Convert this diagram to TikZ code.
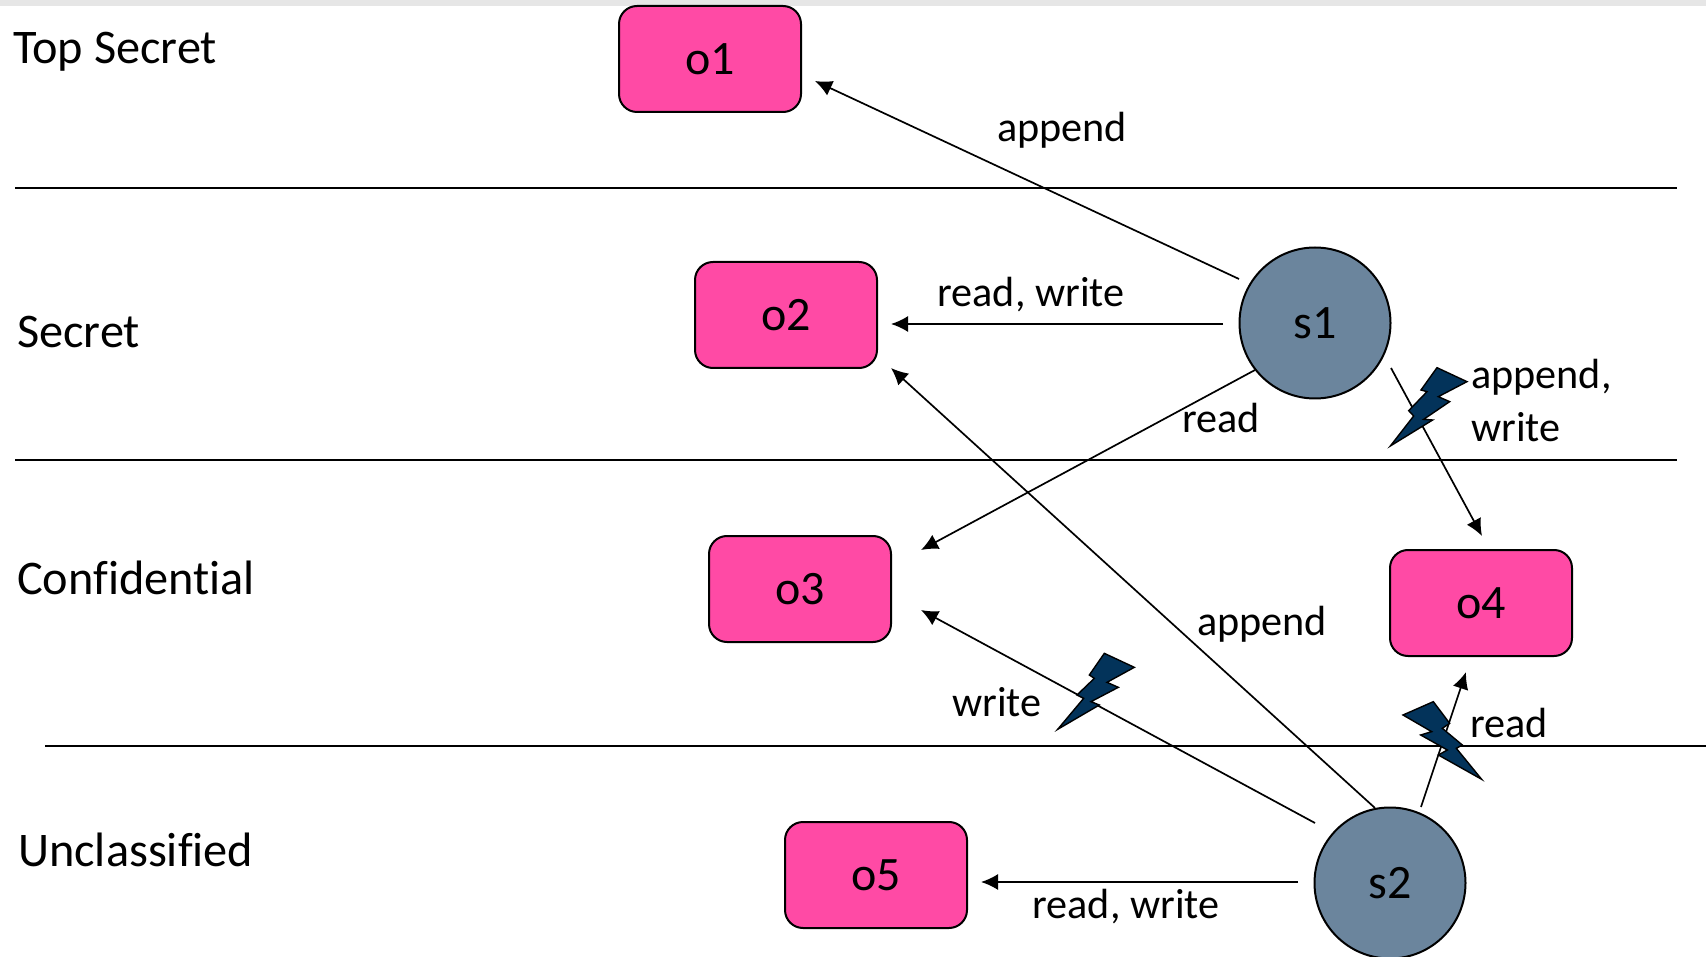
\documentclass[tikz,border=0pt]{standalone}
\usepackage{fontspec}
\usetikzlibrary{arrows.meta}
\setmainfont[Ligatures=NoCommon]{Carlito}
\definecolor{pinkbox}{HTML}{FF4AA5}
\definecolor{slatecirc}{HTML}{6B859D}
\definecolor{boltblue}{HTML}{03335A}
\definecolor{bandgray}{HTML}{E6E6E6}
\begin{document}
\begin{tikzpicture}[x=1pt,y=-1pt,
  objbox/.style={draw=black,line width=2pt,fill=pinkbox,rounded corners=18pt,minimum width=182pt,minimum height=106pt,inner sep=0pt,font=\fontsize{48}{50}\selectfont},
  subj/.style={draw=black,line width=2pt,fill=slatecirc,circle,minimum size=151pt,inner sep=0pt,font=\fontsize{48}{50}\selectfont},
  lvl/.style={anchor=west,inner sep=0pt,font=\fontsize{48.3}{50}\selectfont},
  lab/.style={inner sep=0pt,font=\fontsize{42.2}{50}\selectfont},
  rule/.style={line width=1.7pt,black},
  conn/.style={line width=1.7pt,black,-{Latex[length=17pt,width=16pt]}},
  bolt/.style={draw=black,line width=1.4pt,fill=boltblue,line join=miter}]
\useasboundingbox (0,0) rectangle (1706,957);
\fill[bandgray] (0,0) rectangle (1706,6);
% level lines
\coordinate (h1a) at (15,188); \coordinate (h1b) at (1677,188);
\coordinate (h2a) at (15,460); \coordinate (h2b) at (1677,460);
\coordinate (h3a) at (45,746); \coordinate (h3b) at (1706,746);
\draw[rule] (h1a) -- (h1b);
\draw[rule] (h2a) -- (h2b);
\draw[rule] (h3a) -- (h3b);
% level labels
\node[lvl] (ts) at (13,52) {Top Secret};
\node[lvl] (sec) at (17,332) {Secret};
\node[lvl] (conf) at (17,578) {Confidential};
\node[lvl] (uncl) at (18,850) {Unclassified};
% objects
\node[objbox] (o1) at (710,59) {o1};
\node[objbox] (o2) at (786,315) {o2};
\node[objbox] (o3) at (800,589) {o3};
\node[objbox] (o4) at (1481,603) {o4};
\node[objbox] (o5) at (876,875) {o5};
% subjects
\node[subj] (s1) at (1315,323) {s1};
\node[subj] (s2) at (1390,883) {s2};
% connector free ends
\coordinate (a0) at (1239,279); \coordinate (a1) at (815,81);
\coordinate (b0) at (1223,324); \coordinate (b1) at (891,324);
\coordinate (c0) at (1255,370); \coordinate (c1) at (921,550);
\coordinate (d0) at (1391,368); \coordinate (d1) at (1482,536);
\coordinate (e0) at (1375,808); \coordinate (e1) at (891,368);
\coordinate (f0) at (1315,823); \coordinate (f1) at (921,610);
\coordinate (g0) at (1421,807); \coordinate (g1) at (1466,672);
\coordinate (k0) at (1298,882); \coordinate (k1) at (981,882);
\draw[conn] (a0) -- (a1);
\draw[conn] (b0) -- (b1);
\draw[conn] (c0) -- (c1);
\draw[conn] (d0) -- (d1);
\draw[conn] (e0) -- (e1);
\draw[conn] (f0) -- (f1);
\draw[conn] (g0) -- (g1);
\draw[conn] (k0) -- (k1);
% bolts
\begin{scope}[shift={(1341,340)},x=0.3333pt,y=-0.3333pt]
\draw[bolt] (288,83)--(378,125)--(292,170)--(326,185)--(248,238)--(275,240)--(148,318)--(218,228)--(203,212)--(258,155)--(240,150)--cycle;
\end{scope}
\begin{scope}[shift={(1031,630)},x=0.3333pt,y=-0.3333pt]
\draw[bolt] (220,70)--(310,112)--(228,157)--(262,172)--(180,215)--(205,225)--(80,298)--(158,205)--(138,195)--(190,145)--(175,135)--cycle;
\end{scope}
\begin{scope}[shift={(1379,660)},x=0.3333pt,y=-0.3333pt]
\draw[bolt] (72,165)--(163,125)--(212,190)--(190,205)--(250,255)--(232,265)--(308,358)--(178,285)--(205,270)--(125,225)--(158,215)--cycle;
\end{scope}
% connector labels
\node[lab] (la) at (1062,130) {append};
\node[lab] (lb) at (1031,295) {read, write};
\node[lab] (lc) at (1221,418) {read};
\node[lab,anchor=west] (ld1) at (1471,377) {append,};
\node[lab,anchor=west] (ld2) at (1471,427) {write};
\node[lab] (lf) at (997,702) {write};
\node[lab] (le) at (1262,624) {append};
\node[lab] (lg) at (1509,723) {read};
\node[lab] (lk) at (1126,907) {read, write};
\end{tikzpicture}
\end{document}
